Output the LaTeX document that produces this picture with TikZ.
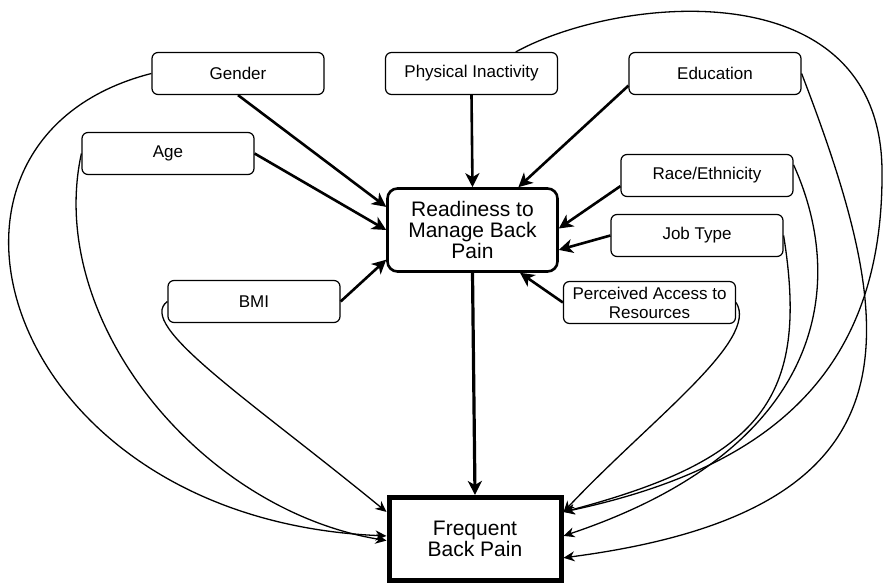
\documentclass[tikz,border=0pt]{standalone}
\usepackage{fontspec}
\setmainfont{Liberation Sans}
\usetikzlibrary{arrows.meta}

\begin{document}
\begin{tikzpicture}[x=1pt,y=-1pt,
  factor/.style={draw, line width=1.2pt, rounded corners=6pt,
    minimum width=172pt, minimum height=42pt, inner sep=0pt,
    align=center, font=\fontsize{17}{19}\selectfont},
  mediator/.style={draw, line width=2.6pt, rounded corners=10pt,
    minimum width=170pt, minimum height=83pt, inner sep=0pt,
    align=center, font=\fontsize{21}{21}\selectfont},
  outcome/.style={draw, line width=5pt,
    minimum width=172pt, minimum height=83pt, inner sep=0pt,
    align=center, font=\fontsize{21}{21}\selectfont},
  direct/.style={line width=2.6pt,
    -{Stealth[length=14pt,width=14pt,inset=4pt]}},
  indirect/.style={line width=1.3pt,
    -{Stealth[length=11pt,width=10pt,inset=3.5pt]}}
]
\useasboundingbox (0,0) rectangle (883,585);

% factor boxes
\node[factor] (gender) at (238,73.5) {Gender};
\node[factor] (pi) at (471.5,73.5) {Physical Inactivity};
\node[factor] (edu) at (715,73.5) {Education};
\node[factor] (age) at (168,153.5) {Age};
\node[factor] (race) at (707,175.5) {Race/Ethnicity};
\node[factor] (job) at (697,235.5) {Job Type};
\node[factor] (bmi) at (254,301.5) {BMI};
\node[factor] (pa) at (649.5,302.5) {Perceived Access to\\Resources};

% mediator and outcome
\node[mediator] (r) at (472.5,230) {Readiness to\\Manage Back\\Pain};
\node[outcome] (f) at (475,539) {Frequent\\Back Pain};

% paths into readiness
\draw[direct] (gender.south) -- (r.165);
\draw[direct] (age.east) -- (r.180);
\draw[direct] (bmi.east) -- (r.199);
\draw[direct] (pi.south) -- (r.north);
\draw[direct] (edu.188) -- (r.43);
\draw[direct] (race.187) -- (r.1);
\draw[direct] (job.west) -- (r.-13);
\draw[direct] (pa.west) -- (r.-42);
\draw[direct, line width=3.2pt] (r.south) -- (f.north);

% direct paths into frequent back pain, left side
\draw[indirect] (gender.west) .. controls (-110,140) and (0,520) .. (f.178);
\draw[indirect] (age.west) .. controls (45,320) and (200,510) .. (f.181);
\draw[indirect] (bmi.west) .. controls (135,325) and (250,400) .. (f.163.5);

% direct paths into frequent back pain, right side
\draw[indirect] (pa.east) .. controls (760,340) and (650,420) .. (f.17);
\draw[indirect] (job.east) .. controls (810,400) and (760,460) .. (f.17);
\draw[indirect] (race.7) .. controls (850,290) and (820,450) .. (f.2.6);
\draw[indirect] (edu.east) .. controls (900,330) and (930,510) .. (f.-12.2);
\coordinate (loop) at (882,170);
\draw[indirect] (pi.26.3) .. controls (620,-5) and (880,-30) .. (loop)
  .. controls (884,380) and (760,470) .. (f.17);
\end{tikzpicture}
\end{document}
